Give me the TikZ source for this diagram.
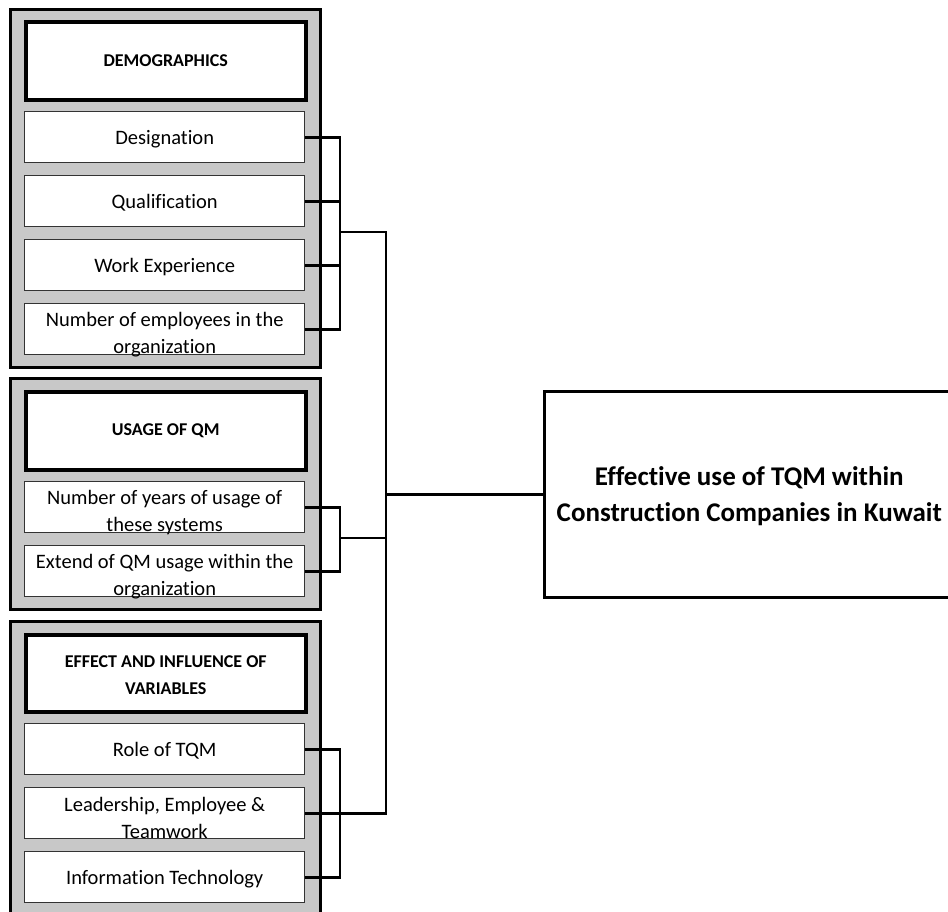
\documentclass[tikz,border=0pt]{standalone}
\usepackage{fontspec}
\setmainfont{Carlito}[Ligatures=NoCommon]
\definecolor{panelgray}{RGB}{200,200,200}
\begin{document}
\begin{tikzpicture}[x=1pt,y=-1pt,
  group/.style={draw=black, line width=3pt, fill=panelgray, anchor=north west,
    inner sep=0pt, minimum width=310pt},
  headbox/.style={draw=black, line width=3.5pt, fill=white, anchor=north west,
    inner sep=0pt, minimum width=280pt, minimum height=78pt},
  itembox/.style={draw=black!80, line width=1.4pt, fill=white, anchor=north west,
    inner sep=0pt, minimum width=280pt, minimum height=51pt},
  headtext/.style={font=\fontsize{18}{27}\selectfont\bfseries, align=center, inner sep=0pt},
  itemtext/.style={font=\fontsize{20.5}{27}\selectfont, align=center, inner sep=0pt, yshift=-2pt},
  twoline/.style={itemtext, yshift=-3pt},
  conn/.style={draw=black, line width=2.6pt},
]
\path[use as bounding box] (0,0) rectangle (948,911);
\clip (0,0) rectangle (948,911);

% panels
\node[group, minimum height=358pt] (g1) at (9,8) {};
\node[group, minimum height=231pt] (g2) at (9,377) {};
\node[group, minimum height=310pt] (g3) at (9,620) {};

% demographics
\node[headbox] (h1) at (24,20) {};
\node[headtext] (h1t) at (h1.center) {DEMOGRAPHICS};
\node[itembox] (d1) at (24,111) {};
\node[itembox] (d2) at (24,175) {};
\node[itembox] (d3) at (24,239) {};
\node[itembox] (d4) at (24,303) {};
\node[itemtext] (d1t) at (d1.center) {Designation};
\node[itemtext] (d2t) at (d2.center) {Qualification};
\node[itemtext] (d3t) at (d3.center) {Work Experience};
\node[twoline] (d4t) at (d4.center) {Number of employees in the\\organization};

% usage of QM
\node[headbox] (h2) at (24,390) {};
\node[headtext] (h2t) at (h2.center) {USAGE OF QM};
\node[itembox] (u1) at (24,481) {};
\node[itembox] (u2) at (24,545) {};
\node[twoline] (u1t) at (u1.center) {Number of years of usage of\\these systems};
\node[twoline] (u2t) at (u2.center) {Extend of QM usage within the\\organization};

% effect and influence of variables
\node[headbox, minimum height=77pt] (h3) at (24,633) {};
\node[headtext, yshift=-2pt] (h3t) at (h3.center) {EFFECT AND INFLUENCE OF\\VARIABLES};
\node[itembox] (e1) at (24,723) {};
\node[itembox] (e2) at (24,787) {};
\node[itembox] (e3) at (24,851) {};
\node[itemtext] (e1t) at (e1.center) {Role of TQM};
\node[twoline] (e2t) at (e2.center) {Leadership, Employee \&\\Teamwork};
\node[itemtext] (e3t) at (e3.center) {Information Technology};

% outcome
\node[draw=black, line width=2.6pt, fill=white, anchor=north west, inner sep=0pt,
  minimum width=420pt, minimum height=206pt] (m) at (543,390) {};
\node[font=\fontsize{27}{36}\selectfont\bfseries, align=center, inner sep=0pt,
  xshift=-5pt, yshift=-2pt]
  (mt) at (m.center) {Effective use of TQM within\\Construction Companies in Kuwait};

% bracket columns
\coordinate (bx) at (340,0);
\coordinate (tx) at (386,0);
\coordinate (j1) at (340,232);
\coordinate (j2) at (340,538);

% demographics bracket
\draw[conn] (d1.east) -- (d1.east -| bx) -- (d4.east -| bx) -- (d4.east);
\draw[conn] (d2.east) -- (d2.east -| bx);
\draw[conn] (d3.east) -- (d3.east -| bx);
% usage bracket
\draw[conn] (u1.east) -- (u1.east -| bx) -- (u2.east -| bx) -- (u2.east);
% variables bracket
\draw[conn] (e1.east) -- (e1.east -| bx) -- (e3.east -| bx) -- (e3.east);

% trunk to the outcome box
\draw[conn] (j1) -- (j1 -| tx) -- (e2.east -| tx) -- (e2.east);
\draw[conn] (j2) -- (j2 -| tx);
\draw[conn] (m.west -| tx) -- (m.west);
\end{tikzpicture}
\end{document}
